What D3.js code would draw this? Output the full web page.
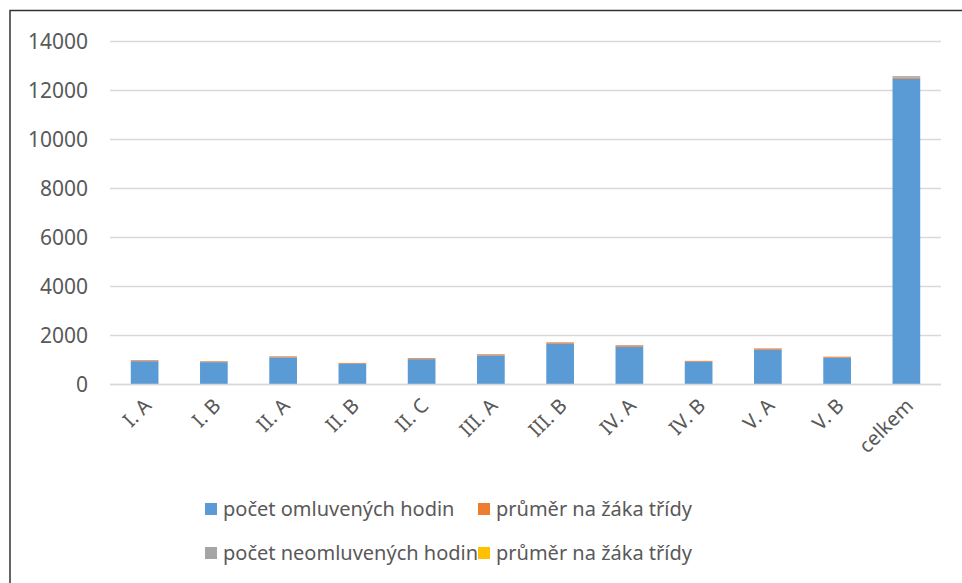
<!DOCTYPE html>
<html>
<head>
<meta charset="utf-8">
<script src="https://cdn.jsdelivr.net/npm/d3@7"></script>
<style>
  body { margin: 0; background: #fff; }
  svg { display: block; }
  text { font-family: "Noto Sans", "Open Sans", sans-serif; fill: #595959; }
</style>
</head>
<body>
<script>
// Categories (classes) and series
var classes = ["I. A", "I. B", "II. A", "II. B", "II. C", "III. A", "III. B", "IV. A", "IV. B", "V. A", "V. B", "celkem"];
var omluvene = [932, 892, 1084, 826, 1014, 1166, 1644, 1521, 908, 1399, 1072, 12458];
var prumerOml = [36, 34, 42, 32, 39, 45, 52, 58, 35, 50, 41, 42];
var neomluvene = [4, 2, 6, 3, 5, 8, 10, 12, 3, 7, 4, 64];
var prumerNeoml = [0.2, 0.1, 0.2, 0.1, 0.2, 0.3, 0.3, 0.5, 0.1, 0.3, 0.2, 0.2];
var seriesNames = ["počet omluvených hodin", "průměr na žáka třídy", "počet neomluvených hodin", "průměr na žáka třídy"];
var colors = ["#5b9bd5", "#ed7d31", "#a5a5a5", "#ffc000"];
var yTicks = [0, 2000, 4000, 6000, 8000, 10000, 12000, 14000];

var W = 962, H = 583;
var margin = {left: 110, right: 21, top: 41, bottom: 199};

// table for d3.stack built from the arrays above
var keys = ["s0", "s1", "s2", "s3"];
var table = classes.map(function(c, i){
    return {cls: c, s0: omluvene[i], s1: prumerOml[i], s2: neomluvene[i], s3: prumerNeoml[i]};
});
var stacked = d3.stack().keys(keys)(table);

var svg = d3.select("body").append("svg").attr("width", W).attr("height", H);

// chart frame (only top and left edges are visible in the crop)
svg.append("rect")
    .attr("x", 10).attr("y", 10.5)
    .attr("width", W + 20).attr("height", H + 20)
    .attr("fill", "none").attr("stroke", "#333").attr("stroke-width", 1.5);

var x = d3.scaleBand()
    .domain(classes)
    .range([margin.left, W - margin.right])
    .paddingInner(0.6)
    .paddingOuter(0.3);

var y = d3.scaleLinear()
    .domain([0, 14000])
    .range([H - margin.bottom, margin.top]);

// gridlines
svg.append("g").selectAll("line")
    .data(yTicks)
    .enter().append("line")
    .attr("x1", margin.left).attr("x2", W - margin.right)
    .attr("y1", function(d){ return Math.round(y(d)) + 0.5; })
    .attr("y2", function(d){ return Math.round(y(d)) + 0.5; })
    .attr("stroke", "#d9d9d9").attr("stroke-width", 1.3);

// y axis labels
svg.append("g").selectAll("text")
    .data(yTicks)
    .enter().append("text")
    .attr("x", 88)
    .attr("y", function(d){ return y(d); })
    .attr("dy", "0.36em")
    .attr("text-anchor", "end")
    .attr("font-size", 21)
    .text(function(d){ return d; });

// stacked bars
svg.append("g").selectAll("g")
    .data(stacked)
    .enter().append("g")
    .attr("fill", function(d, i){ return colors[i]; })
    .selectAll("rect")
    .data(function(d){ return d; })
    .enter().append("rect")
    .attr("x", function(d){ return x(d.data.cls); })
    .attr("width", x.bandwidth())
    .attr("y", function(d){ return y(d[1]); })
    .attr("height", function(d){ return Math.max(0, y(d[0]) - y(d[1])); });

// bottom axis line
svg.append("line")
    .attr("x1", margin.left).attr("x2", W - margin.right)
    .attr("y1", y(0) + 0.5).attr("y2", y(0) + 0.5)
    .attr("stroke", "#d9d9d9").attr("stroke-width", 1.5);

// x labels, rotated
svg.append("g").selectAll("text")
    .data(classes)
    .enter().append("text")
    .attr("transform", function(d){
        return "translate(" + (x(d) + x.bandwidth() / 2 + 8) + "," + (y(0) + 23) + ") rotate(-45)";
    })
    .attr("text-anchor", "end")
    .attr("font-size", 20)
    .text(function(d){ return d; });

// legend
var legendPos = [[205, 509], [478, 509], [205, 553], [478, 553]];
var legend = svg.append("g").selectAll("g")
    .data(seriesNames)
    .enter().append("g")
    .attr("transform", function(d, i){ return "translate(" + legendPos[i][0] + "," + legendPos[i][1] + ")"; });
legend.append("rect")
    .attr("x", 0).attr("y", -6)
    .attr("width", 12).attr("height", 12)
    .attr("fill", function(d, i){ return colors[i]; });
legend.append("text")
    .attr("x", 18).attr("dy", "0.36em")
    .attr("font-size", 20)
    .text(function(d){ return d; });
</script>
</body>
</html>
